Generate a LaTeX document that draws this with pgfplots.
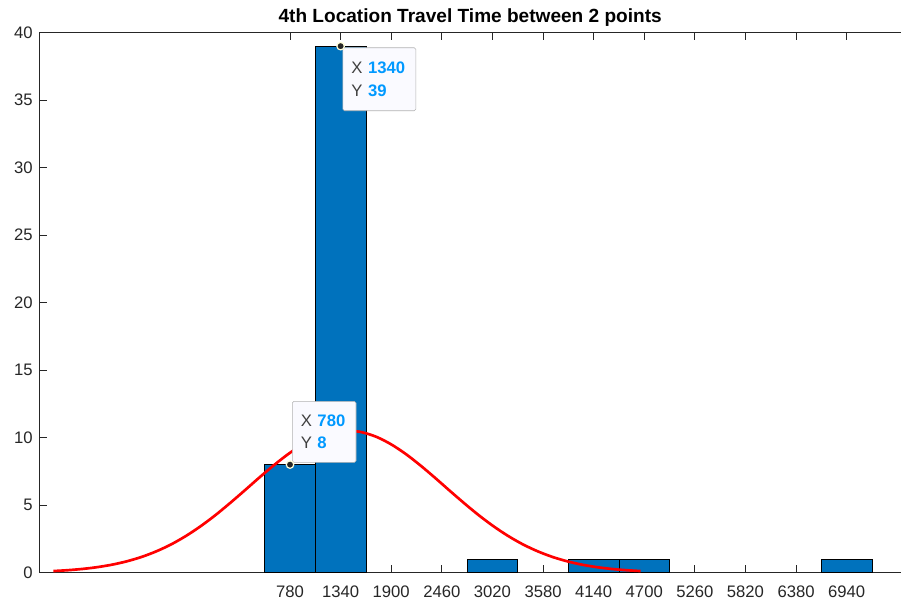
\documentclass[border=0pt]{standalone}
\usepackage{fontspec}
\setmainfont{Liberation Sans}
\usepackage{pgfplots}
\pgfplotsset{compat=1.18}
\definecolor{mblue}{RGB}{0,114,189}
\definecolor{axgray}{RGB}{38,38,38}
\definecolor{tipblue}{RGB}{0,153,255}
\definecolor{tipgray}{RGB}{64,64,64}
\begin{document}
\begin{tikzpicture}
\begin{axis}[
  scale only axis,
  width=646.3pt, height=405pt,
  xmin=-1994, xmax=7541, ymin=0, ymax=40,
  enlargelimits=false,
  axis x line=box, axis y line=left,
  x axis line style={-}, y axis line style={-},
  axis line style={axgray, line width=0.6pt},
  tick align=inside,
  major tick length=5.5pt,
  tick style={axgray, line width=0.6pt},
  xtick={780,1340,1900,2460,3020,3580,4140,4700,5260,5820,6380,6940},
  xticklabels={780,1340,1900,2460,3020,3580,4140,4700,5260,5820,6380,6940},
  ytick={0,5,10,15,20,25,30,35,40},
  yticklabels={0,5,10,15,20,25,30,35,40},
  ticklabel style={font=\fontsize{12.5}{14}\selectfont, text=axgray},
  xticklabel style={yshift=-6.3pt},
  yticklabel style={xshift=-1.5pt},
  every axis title/.style={at={(0.5,1)}, anchor=base, yshift=7.5pt, font=\fontsize{14.3}{16}\selectfont\bfseries},
  title={4th Location Travel Time between 2 points},
]
\addplot[ybar, bar width=560, bar shift=0pt, fill=mblue, draw=black, line width=0.6pt]
  coordinates {(780,8) (1340,39) (3020,1) (4140,1) (4700,1) (6940,1)};
\addplot[red, line width=2pt, smooth] coordinates {
(-1838,0.117) (-1676,0.181) (-1513,0.275) (-1351,0.407) (-1188,0.590)
(-1026,0.837) (-863,1.160) (-701,1.572) (-538,2.082) (-376,2.697)
(-214,3.415) (-51,4.229) (111,5.121) (274,6.062) (436,7.017)
(599,7.941) (761,8.787) (924,9.507) (1086,10.057) (1249,10.402)
(1411,10.520) (1574,10.402) (1736,10.057) (1898,9.507) (2061,8.787)
(2223,7.941) (2386,7.017) (2548,6.062) (2711,5.121) (2873,4.229)
(3036,3.415) (3198,2.697) (3360,2.082) (3523,1.572) (3685,1.160)
(3848,0.837) (4010,0.590) (4173,0.407) (4335,0.275) (4498,0.181)
(4660,0.117)};
\node[draw=black!30, fill=blue!2!white, rounded corners=1.2pt, anchor=north west,
  xshift=1.5pt, yshift=-1pt, minimum width=54.75pt, minimum height=47.25pt,
  text width=42pt, inner xsep=6.4pt, align=left,
  font=\fontsize{12.5}{17}\selectfont]
  at (axis cs:1340,39)
  {\mbox{\textcolor{tipgray}{X} \textcolor{tipblue}{\textbf{1340}}}\\\mbox{\textcolor{tipgray}{Y} \textcolor{tipblue}{\textbf{39}}}};
\node[draw=black!30, fill=blue!2!white, rounded corners=1.2pt, anchor=south west,
  xshift=1.5pt, yshift=1.5pt, minimum width=47.8pt, minimum height=45.75pt,
  text width=35pt, inner xsep=6.4pt, align=left,
  font=\fontsize{12.5}{17}\selectfont]
  at (axis cs:780,8)
  {\mbox{\textcolor{tipgray}{X} \textcolor{tipblue}{\textbf{780}}}\\\mbox{\textcolor{tipgray}{Y} \textcolor{tipblue}{\textbf{8}}}};
\addplot[only marks, mark=*, mark size=2.8pt,
  mark options={fill=black!85, draw=yellow!15!white, line width=0.9pt}]
  coordinates {(780,8) (1340,39)};
\end{axis}
\pgfresetboundingbox
\path[use as bounding box] ([xshift=-29.5pt,yshift=-21.2pt]current axis.south west) rectangle ([yshift=24.5pt]current axis.north east);
\end{tikzpicture}
\end{document}
